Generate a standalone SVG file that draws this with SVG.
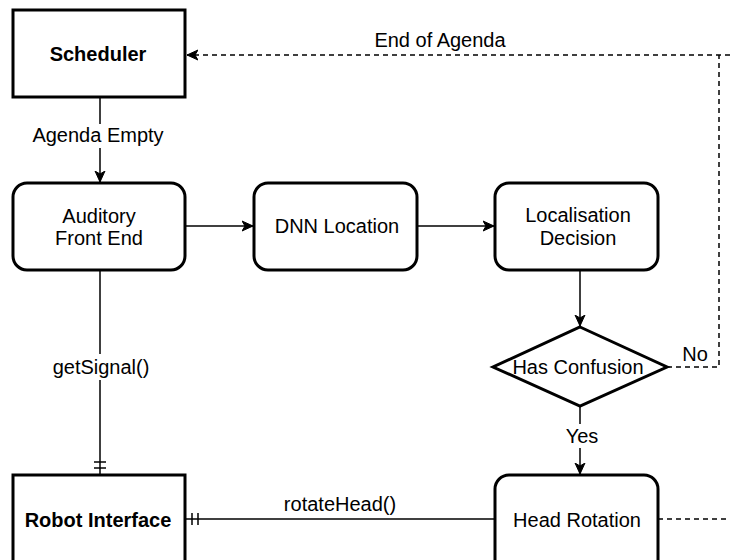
<svg xmlns="http://www.w3.org/2000/svg" width="730" height="560" viewBox="0 0 730 560">
<style>
.box{fill:#fff;stroke:#000;stroke-width:3}
.t{font-family:"Liberation Sans",Arial,sans-serif;font-size:20px;fill:#000;text-anchor:middle;dominant-baseline:central}
.b{font-weight:bold}
.ln{fill:none;stroke:#000;stroke-width:1.5}
.d{stroke-dasharray:5 4}
.lbl{fill:#fff}
</style>
<defs>
<marker id="arr" markerUnits="userSpaceOnUse" markerWidth="12" markerHeight="12" viewBox="0 0 12 12" refX="11" refY="6" orient="auto">
<path d="M0,1 L11,6 L0,11 L3,6 z" fill="#000" stroke="#000" stroke-width="1"/>
</marker>
</defs>
<g id="connectors">
<line class="ln" x1="100" y1="97" x2="100" y2="182" marker-end="url(#arr)"/>
<rect class="lbl" x="28" y="124" width="142" height="24"/>
<text class="t" x="98" y="135">Agenda Empty</text>
<line class="ln" x1="185" y1="226" x2="253" y2="226" marker-end="url(#arr)"/>
<line class="ln" x1="417" y1="226" x2="494" y2="226" marker-end="url(#arr)"/>
<line class="ln" x1="580" y1="270" x2="580" y2="326" marker-end="url(#arr)"/>
<line class="ln" x1="580" y1="406" x2="580" y2="474" marker-end="url(#arr)"/>
<rect class="lbl" x="561" y="424" width="42" height="24"/>
<text class="t" x="582" y="436">Yes</text>
<line class="ln" x1="100" y1="270" x2="100" y2="475"/>
<line class="ln" x1="94" y1="462" x2="106" y2="462"/>
<line class="ln" x1="94" y1="468" x2="106" y2="468"/>
<rect class="lbl" x="48" y="354" width="106" height="26"/>
<text class="t" x="101" y="367">getSignal()</text>
<line class="ln" x1="185" y1="519" x2="495" y2="519"/>
<line class="ln" x1="192" y1="513" x2="192" y2="525"/>
<line class="ln" x1="198" y1="513" x2="198" y2="525"/>
<text class="t" x="340" y="504">rotateHead()</text>
<polyline class="ln d" points="667,367 719,367 719,55"/>
<line class="ln d" x1="730" y1="55" x2="187" y2="55" marker-end="url(#arr)"/>
<text class="t" x="440" y="40">End of Agenda</text>
<text class="t" x="695" y="354">No</text>
<line class="ln d" x1="658" y1="519" x2="730" y2="519"/>
</g>
<g id="scheduler">
<rect class="box" x="13" y="10" width="172" height="87"/>
<text class="t b" x="98" y="54">Scheduler</text>
</g>
<g id="auditory">
<rect class="box" x="13" y="183" width="172" height="87" rx="14"/>
<text class="t" x="99" y="216">Auditory</text>
<text class="t" x="99" y="238">Front End</text>
</g>
<g id="dnn">
<rect class="box" x="254" y="183" width="163" height="87" rx="14"/>
<text class="t" x="337" y="226">DNN Location</text>
</g>
<g id="localisation">
<rect class="box" x="495" y="183" width="163" height="87" rx="14"/>
<text class="t" x="578" y="215">Localisation</text>
<text class="t" x="578" y="238">Decision</text>
</g>
<g id="confusion">
<polygon class="box" points="580,327 667,367 580,406 493,367"/>
<text class="t" x="578" y="367">Has Confusion</text>
</g>
<g id="robot">
<rect class="box" x="13" y="475" width="172" height="100"/>
<text class="t b" x="98" y="520">Robot Interface</text>
</g>
<g id="head">
<rect class="box" x="495" y="475" width="163" height="100" rx="14"/>
<text class="t" x="577" y="520">Head Rotation</text>
</g>
</svg>
